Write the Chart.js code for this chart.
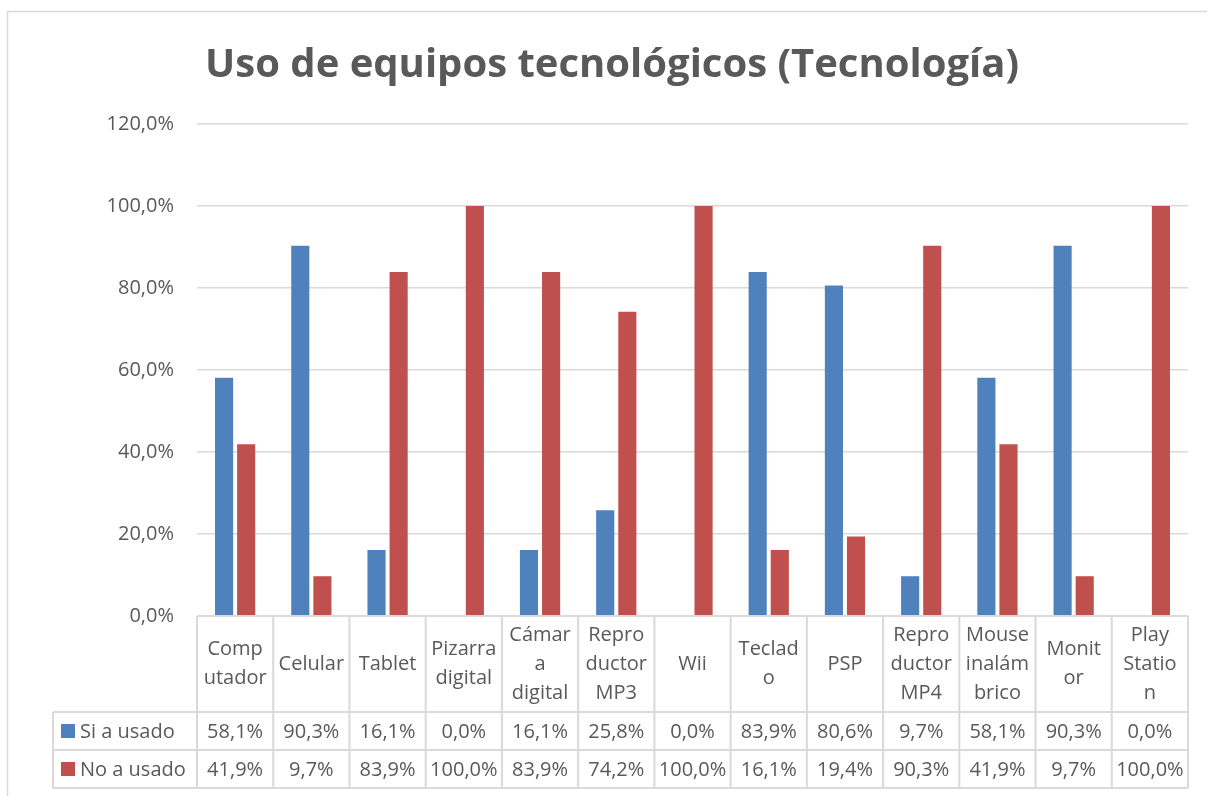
<!DOCTYPE html>
<html>
<head>
<meta charset="utf-8">
<script src="https://cdn.jsdelivr.net/npm/chart.js@4"></script>
<style>
  body { margin: 0; background: #fff; }
  #wrap { width: 1207px; height: 796px; }
</style>
</head>
<body>
<div id="wrap"><canvas id="grafico"></canvas></div>
<script>
// datos del grafico
var titulo = 'Uso de equipos tecnológicos (Tecnología)'
var categorias = [
  ['Comp', 'utador'], ['Celular'], ['Tablet'], ['Pizarra', 'digital'],
  ['Cámar', 'a', 'digital'], ['Repro', 'ductor', 'MP3'], ['Wii'],
  ['Teclad', 'o'], ['PSP'], ['Repro', 'ductor', 'MP4'],
  ['Mouse', 'inalám', 'brico'], ['Monit', 'or'], ['Play', 'Statio', 'n']
]
var si_usado = [58.1, 90.3, 16.1, 0.0, 16.1, 25.8, 0.0, 83.9, 80.6, 9.7, 58.1, 90.3, 0.0]
var no_usado = [41.9, 9.7, 83.9, 100.0, 83.9, 74.2, 100.0, 16.1, 19.4, 90.3, 41.9, 9.7, 100.0]
var nombres_series = ['Si a usado', 'No a usado']
var colores = ['#4F81BD', '#C0504D']

var fuente = "'Open Sans', 'DejaVu Sans', sans-serif"
var gris_texto = '#595959'
var gris_linea = '#D9D9D9'

function fmt(v){
  return v.toFixed(1).replace('.', ',') + '%'
}

// titulo, marco y tabla de datos debajo del grafico (como en Excel)
var tabla_datos = {
  id: 'tabla_datos',
  afterDraw: function(chart){
    const ctx = chart.ctx
    const x = chart.scales.x
    const area = chart.chartArea
    const ancho = x.getPixelForValue(1) - x.getPixelForValue(0)
    const filaCat = 96
    const filaDato = 38
    const yCat = area.bottom
    const y1 = yCat + filaCat
    const y2 = y1 + filaDato
    const y3 = y2 + filaDato
    const izq = 53

    ctx.save()
    // marco del grafico
    ctx.strokeStyle = gris_linea
    ctx.lineWidth = 1.5
    ctx.strokeRect(7.5, 11.5, 1400, 1000)

    // titulo
    ctx.fillStyle = gris_texto
    ctx.font = 'bold 40px ' + fuente
    ctx.textAlign = 'center'
    ctx.textBaseline = 'middle'
    ctx.fillText(titulo, 612, 66)

    ctx.lineWidth = 2
    ctx.beginPath()
    ctx.moveTo(area.left, yCat); ctx.lineTo(area.right, yCat)
    ctx.moveTo(izq, y1); ctx.lineTo(area.right, y1)
    ctx.moveTo(izq, y2); ctx.lineTo(area.right, y2)
    ctx.moveTo(izq, y3); ctx.lineTo(area.right, y3)
    ctx.moveTo(izq, y1); ctx.lineTo(izq, y3)
    for (let i = 0; i <= categorias.length; i++){
      let xx = x.getPixelForValue(0) - ancho / 2 + i * ancho
      ctx.moveTo(xx, yCat); ctx.lineTo(xx, y3)
    }
    ctx.stroke()

    ctx.font = '20px ' + fuente
    const lh = 29
    categorias.forEach(function(lineas, i){
      let cx = x.getPixelForValue(i)
      let y0 = yCat + filaCat / 2 - (lineas.length - 1) * lh / 2
      lineas.forEach(function(t, j){
        ctx.fillText(t, cx, y0 + j * lh)
      })
    })

    const series = [si_usado, no_usado]
    series.forEach(function(serie, s){
      let cy = y1 + filaDato * s + filaDato / 2
      ctx.fillStyle = colores[s]
      ctx.fillRect(61, cy - 7, 14, 14)
      ctx.fillStyle = gris_texto
      ctx.textAlign = 'left'
      ctx.fillText(nombres_series[s], 80, cy + 1)
      ctx.textAlign = 'center'
      serie.forEach(function(v, i){
        ctx.fillText(fmt(v), x.getPixelForValue(i), cy + 1)
      })
    })
    ctx.restore()
  }
}

const ctx = document.getElementById('grafico').getContext('2d')
const myChart = new Chart(ctx, {
  type: 'bar',
  data: {
    labels: categorias.map(function(c){ return c.join('') }),
    datasets: [{
      label: nombres_series[0],
      data: si_usado,
      backgroundColor: colores[0],
      categoryPercentage: 0.58,
      barPercentage: 0.82
    }, {
      label: nombres_series[1],
      data: no_usado,
      backgroundColor: colores[1],
      categoryPercentage: 0.58,
      barPercentage: 0.82
    }]
  },
  options: {
    responsive: true,
    maintainAspectRatio: false,
    animation: false,
    layout: { padding: { left: 0, right: 19, top: 124, bottom: 180 } },
    plugins: {
      legend: { display: false },
      tooltip: { enabled: false },
      title: { display: false }
    },
    scales: {
      x: { display: false },
      y: {
        min: 0,
        max: 120,
        ticks: {
          stepSize: 20,
          padding: 23,
          color: gris_texto,
          font: { family: fuente, size: 20 },
          callback: function(v){ return fmt(v) }
        },
        grid: { color: gris_linea, lineWidth: 1.5, drawTicks: false },
        border: { display: false },
        afterFit: function(s){ s.width = 197 }
      }
    }
  },
  plugins: [tabla_datos]
})
</script>
</body>
</html>
